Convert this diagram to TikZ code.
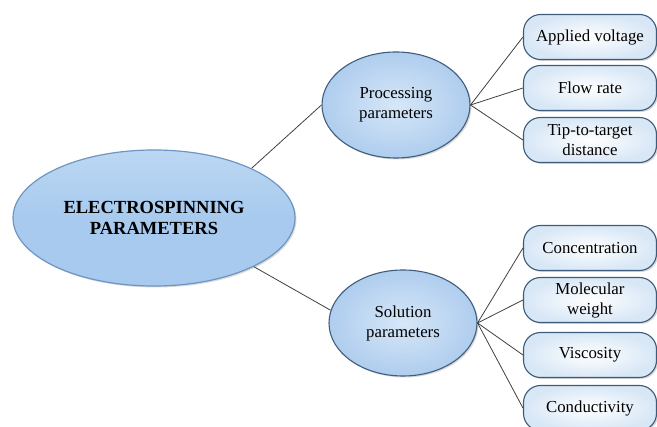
\documentclass[tikz,border=0pt]{standalone}
\usepackage{fontspec}
\setmainfont{Liberation Serif}
\usetikzlibrary{shapes.geometric,shadows}
\definecolor{mainfill}{HTML}{A7CAEE}
\definecolor{mainfilltop}{HTML}{BCD7F3}
\definecolor{mainedge}{HTML}{6F95C2}
\definecolor{subin}{HTML}{D6E7F8}
\definecolor{subout}{HTML}{AFCDEE}
\definecolor{subedge}{HTML}{3F5E7E}
\definecolor{boxfill}{HTML}{D8E7F6}
\definecolor{boxedge}{HTML}{3D5B7A}
\definecolor{linec}{HTML}{404040}
\begin{document}
\begin{tikzpicture}[x=1pt,y=-1pt,
  mainell/.style={ellipse, draw=mainedge, line width=1.2pt, inner sep=0pt,
    top color=mainfilltop, bottom color=mainfill, middle color=mainfill,
    drop shadow={shadow xshift=1.5pt, shadow yshift=-1.5pt, opacity=0.3},
    minimum width=282pt, minimum height=136pt, align=center,
    font=\fontsize{18.5}{21}\selectfont\bfseries},
  subell/.style={ellipse, draw=subedge, line width=1.1pt, inner sep=0pt,
    inner color=subin, outer color=subout,
    drop shadow={shadow xshift=1.5pt, shadow yshift=-1.5pt, opacity=0.3},
    minimum width=148pt, minimum height=106pt, align=center,
    font=\fontsize{16.8}{20}\selectfont},
  leaf/.style={rectangle, rounded corners=17pt, draw=boxedge, line width=1.1pt,
    inner color=white, outer color=boxfill,
    drop shadow={shadow xshift=1.5pt, shadow yshift=-1.5pt, opacity=0.3},
    minimum width=133pt, minimum height=45pt, inner sep=0pt, align=center,
    font=\fontsize{16.8}{20}\selectfont},
  conn/.style={draw=linec, line width=0.8pt}
]
\useasboundingbox (0,0) rectangle (657,427);
\node[mainell] (main) at (154,218) {ELECTROSPINNING\\PARAMETERS};
\node[subell] (proc) at (396,105) {Processing\\parameters};
\node[subell] (sol) at (403,323) {Solution\\parameters};

\node[leaf] (av) at (590,37) {Applied voltage};
\node[leaf] (fr) at (590,88) {Flow rate};
\node[leaf] (tt) at (590,140) {Tip-to-target\\distance};
\node[leaf] (co) at (590,248) {Concentration};
\node[leaf] (mw) at (590,300) {Molecular\\weight};
\node[leaf] (vi) at (590,355) {Viscosity};
\node[leaf] (cd) at (590,408) {Conductivity};

\draw[conn] (main.27) -- (proc.west);
\draw[conn] (main.-26) -- (sol.170);
\draw[conn] (proc.east) -- (av.west);
\draw[conn] (proc.east) -- (fr.west);
\draw[conn] (proc.east) -- (tt.west);
\draw[conn] (sol.east) -- (co.west);
\draw[conn] (sol.east) -- (mw.west);
\draw[conn] (sol.east) -- (vi.west);
\draw[conn] (sol.east) -- (cd.west);
\end{tikzpicture}
\end{document}
